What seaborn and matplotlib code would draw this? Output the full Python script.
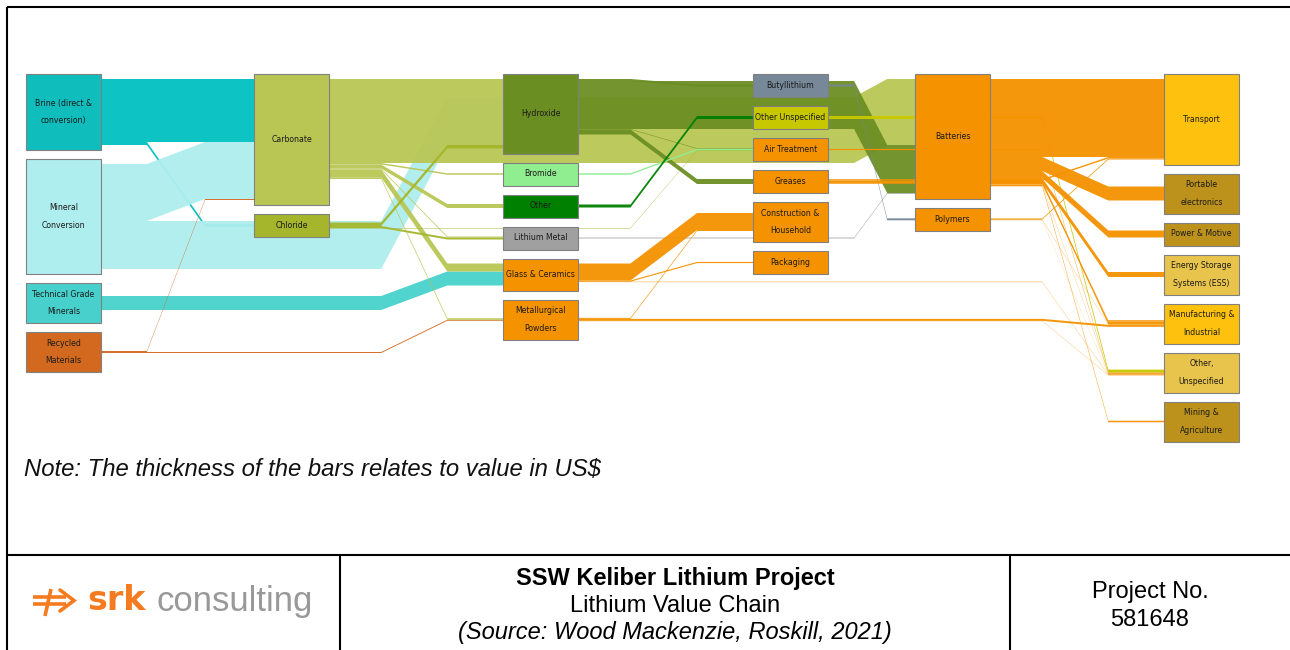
import matplotlib
matplotlib.use("Agg")
import matplotlib.pyplot as plt
from matplotlib.patches import Polygon, Rectangle
import numpy as np
import pandas as pd
import seaborn as sns

sns.set_theme(style="white")
plt.rcParams["font.family"] = ["DejaVu Sans"]

# ---------------------------------------------------------------- nodes
node_names = [
    "Brine", "Mineral Conversion", "Technical Grade Minerals", "Recycled Materials",
    "Carbonate", "Chloride",
    "Hydroxide", "Bromide", "Other", "Lithium Metal", "Glass & Ceramics", "Metallurgical Powders",
    "Butyllithium", "Other Unspecified", "Air Treatment", "Greases", "Construction & Household", "Packaging",
    "Batteries", "Polymers",
    "Transport", "Portable electronics", "Power & Motive", "Energy Storage Systems (ESS)",
    "Manufacturing & Industrial", "Other, Unspecified", "Mining & Agriculture",
]
node_labels = [
    "Brine (direct &\nconversion)", "Mineral\nConversion", "Technical Grade\nMinerals", "Recycled\nMaterials",
    "Carbonate", "Chloride",
    "Hydroxide", "Bromide", "Other", "Lithium Metal", "Glass & Ceramics", "Metallurgical\nPowders",
    "Butyllithium", "Other Unspecified", "Air Treatment", "Greases", "Construction &\nHousehold", "Packaging",
    "Batteries", "Polymers",
    "Transport", "Portable\nelectronics", "Power & Motive", "Energy Storage\nSystems (ESS)",
    "Manufacturing &\nIndustrial", "Other,\nUnspecified", "Mining &\nAgriculture",
]
node_stage = [0, 0, 0, 0, 1, 1, 2, 2, 2, 2, 2, 2, 3, 3, 3, 3, 3, 3, 4, 4, 5, 5, 5, 5, 5, 5, 5]
node_colors = [
    "#10BDBD", "#AFEEEE", "#48D1CC", "#D2691E",
    "#B9C654", "#A5B62C",
    "#6B8E23", "#90EE90", "#008000", "#A0A0A0", "#F59200", "#F59200",
    "#778899", "#C8C800", "#F59200", "#F59200", "#F59200", "#F59200",
    "#F59200", "#F59200",
    "#FEC10E", "#BC921C", "#BC921C", "#E9C44C", "#FEC10E", "#E9C44C", "#BC921C",
]

# ---------------------------------------------------------------- flows (value, US$)
link_source = [
    "Brine", "Brine", "Mineral Conversion", "Mineral Conversion",
    "Technical Grade Minerals", "Recycled Materials", "Recycled Materials",
    "Carbonate", "Carbonate", "Carbonate", "Carbonate", "Carbonate", "Carbonate", "Carbonate",
    "Chloride", "Chloride", "Chloride",
    "Hydroxide", "Hydroxide", "Hydroxide", "Hydroxide",
    "Bromide", "Other", "Lithium Metal",
    "Glass & Ceramics", "Glass & Ceramics", "Glass & Ceramics",
    "Metallurgical Powders", "Metallurgical Powders", "Metallurgical Powders",
    "Butyllithium", "Other Unspecified", "Air Treatment", "Greases", "Greases",
    "Batteries", "Batteries", "Batteries", "Batteries", "Batteries", "Batteries", "Batteries",
    "Polymers", "Polymers", "Polymers",
]
link_target = [
    "Carbonate", "Chloride", "Carbonate", "Hydroxide",
    "Glass & Ceramics", "Carbonate", "Metallurgical Powders",
    "Hydroxide", "Batteries", "Bromide", "Other", "Lithium Metal", "Glass & Ceramics", "Metallurgical Powders",
    "Hydroxide", "Lithium Metal", "Air Treatment",
    "Butyllithium", "Batteries", "Air Treatment", "Greases",
    "Air Treatment", "Other Unspecified", "Batteries",
    "Construction & Household", "Packaging", "Other, Unspecified",
    "Construction & Household", "Manufacturing & Industrial", "Other, Unspecified",
    "Polymers", "Other, Unspecified", "Other, Unspecified", "Transport", "Manufacturing & Industrial",
    "Transport", "Portable electronics", "Power & Motive", "Energy Storage Systems (ESS)",
    "Manufacturing & Industrial", "Other, Unspecified", "Mining & Agriculture",
    "Transport", "Manufacturing & Industrial", "Other, Unspecified",
]
link_value = [
    63, 3, 57, 48,
    14, 1, 1,
    18, 66, 1.5, 4, 1, 8, 1.5,
    3.5, 2, 0.5,
    2, 48, 0.5, 5,
    1.5, 3, 0.8,
    17, 1.2, 0.4,
    1, 2, 0.3,
    2, 3, 1.2, 1.5, 3,
    78, 14, 7, 5, 1.2, 0.6, 1.5,
    1, 0.4, 0.3,
]

# ---------------------------------------------------------------- layout (figure pixels)
STAGE_X = [26, 254, 503, 753, 915, 1164]
NODE_W = 75
TOP, GAP, PAD = 74, 9, 5
KINK_A, KINK_B = 0.30, 0.68
INCOMING_FIRST = {"Batteries": ["Carbonate", "Hydroxide", "Lithium Metal"]}

nodes = pd.DataFrame({"name": node_names, "label": node_labels,
                      "stage": node_stage, "color": node_colors}).set_index("name")
links = pd.DataFrame({"source": link_source, "target": link_target, "value": link_value})

nodes["in_sum"] = links.groupby("target")["value"].sum().reindex(nodes.index).fillna(0)
nodes["out_sum"] = links.groupby("source")["value"].sum().reindex(nodes.index).fillna(0)
nodes["min_h"] = np.where(nodes["label"].str.contains("\n"), 40, 23)
nodes["h"] = np.maximum(nodes[["in_sum", "out_sum"]].max(axis=1) + 2 * PAD, nodes["min_h"])

tops = {}
for stage, grp in nodes.groupby("stage", sort=True):
    y = TOP
    for name in grp.index:
        tops[name] = y
        y += nodes.loc[name, "h"] + GAP
nodes["y0"] = pd.Series(tops)
nodes["x0"] = [STAGE_X[s] for s in nodes["stage"]]
nodes["yc"] = nodes["y0"] + nodes["h"] / 2


def start_offset(total, min_h):
    return max(PAD, (min_h - total) / 2)


# source side: stacked in list order
ys = np.zeros(len(links))
for name, grp in links.groupby("source", sort=False):
    cur = nodes.loc[name, "y0"] + start_offset(nodes.loc[name, "out_sum"], nodes.loc[name, "min_h"])
    for i in grp.index:
        ys[i] = cur
        cur += links.loc[i, "value"]
links["ys"] = ys

# target side: stacked by the height of the source node
yt = np.zeros(len(links))
for name, grp in links.groupby("target", sort=False):
    if name in INCOMING_FIRST:
        rank = {s: k for k, s in enumerate(INCOMING_FIRST[name])}
        order = sorted(grp.index, key=lambda i: rank[links.loc[i, "source"]])
    else:
        order = sorted(grp.index, key=lambda i: nodes.loc[links.loc[i, "source"], "yc"])
    cur = nodes.loc[name, "y0"] + start_offset(nodes.loc[name, "in_sum"], nodes.loc[name, "min_h"])
    for i in order:
        yt[i] = cur
        cur += links.loc[i, "value"]
links["yt"] = yt
links["s_stage"] = nodes.loc[links["source"], "stage"].values
links["t_stage"] = nodes.loc[links["target"], "stage"].values

# ---------------------------------------------------------------- drawing
fig = plt.figure(figsize=(12.9, 6.5), dpi=100)
ax = fig.add_axes([0, 0, 1, 1])
ax.set_xlim(0, 1290)
ax.set_ylim(650, 0)
ax.axis("off")

for i in links.sort_values("s_stage", kind="stable").index:
    r = links.loc[i]
    w = r["value"]
    x0 = STAGE_X[r["s_stage"]] + NODE_W
    x1 = STAGE_X[r["t_stage"]]
    gl = STAGE_X[r["t_stage"] - 1] + NODE_W
    xa = gl + KINK_A * (x1 - gl)
    xb = gl + KINK_B * (x1 - gl)
    y_s, y_t = r["ys"], r["yt"]
    pts = [(x0, y_s), (xa, y_s), (xb, y_t), (x1, y_t),
           (x1, y_t + w), (xb, y_t + w), (xa, y_s + w), (x0, y_s + w)]
    color = nodes.loc[r["source"], "color"]
    if r["source"] == "Brine":
        color = "#00C0C0"
    ax.add_patch(Polygon(pts, closed=True, facecolor=color,
                         edgecolor="none", alpha=0.95, zorder=2))

for name, n in nodes.iterrows():
    ax.add_patch(Rectangle((n["x0"], n["y0"]), NODE_W, n["h"], facecolor=n["color"],
                           edgecolor="#808080", linewidth=0.8, zorder=3))
    lines = n["label"].split("\n")
    cx = n["x0"] + NODE_W / 2
    if len(lines) == 1:
        ax.text(cx, n["yc"], lines[0], ha="center", va="center", fontsize=5.6,
                color="#1a1a1a", zorder=4)
    else:
        for k, line in enumerate(lines):
            ax.text(cx, n["yc"] + (k - 0.5) * 17.5, line, ha="center", va="center",
                    fontsize=5.6, color="#1a1a1a", zorder=4)

ax.text(24, 470, "Note: The thickness of the bars relates to value in US$", fontsize=17.2,
        style="italic", family="Liberation Sans", ha="left", va="center", color="#111111")

# page frame and title block
frame = dict(color="black", linewidth=1.5, solid_capstyle="butt", zorder=5)
ax.plot([7, 1290], [7, 7], **frame)
ax.plot([7, 7], [7, 650], **frame)
ax.plot([7, 1290], [555, 555], **frame)
ax.plot([340, 340], [555, 650], **frame)
ax.plot([1010, 1010], [555, 650], **frame)

ax.text(675, 579, "SSW Keliber Lithium Project", fontsize=17, weight="bold",
        family="Liberation Sans", ha="center", va="center", color="black")
ax.text(675, 606, "Lithium Value Chain", fontsize=17, family="Liberation Sans",
        ha="center", va="center", color="black")
ax.text(675, 633, "(Source: Wood Mackenzie, Roskill, 2021)", fontsize=17, style="italic",
        family="Liberation Sans", ha="center", va="center", color="black")
ax.text(1150, 592, "Project No.", fontsize=17, family="Liberation Sans",
        ha="center", va="center", color="black")
ax.text(1150, 620, "581648", fontsize=17, family="Liberation Sans",
        ha="center", va="center", color="black")

# srk logo
logo = "#F47B20"
ax.plot([33, 66], [597, 597], color=logo, lw=2.6, solid_capstyle="butt")
ax.plot([33, 66], [604, 604], color=logo, lw=2.6, solid_capstyle="butt")
ax.plot([60, 74, 60], [590, 600.5, 611], color=logo, lw=2.6, solid_joinstyle="miter")
ax.plot([51, 45], [589, 616], color=logo, lw=2.6, solid_capstyle="butt")
ax.text(87, 601, "srk", fontsize=24, weight="bold", family="DejaVu Sans",
        ha="left", va="center", color=logo)
ax.text(157, 601, "consulting", fontsize=25, family="Liberation Sans",
        ha="left", va="center", color="#999999")

fig.savefig("out.png", dpi=100)
